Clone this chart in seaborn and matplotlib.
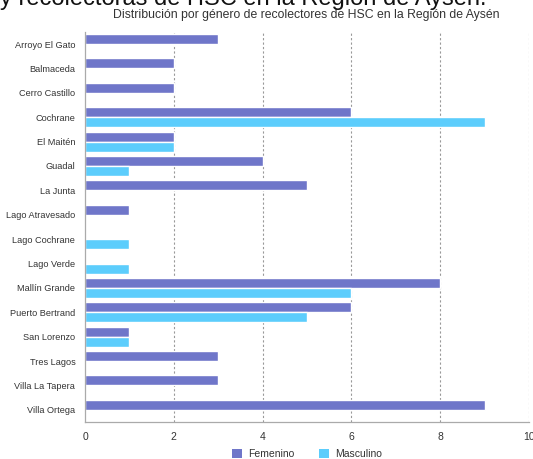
import matplotlib
matplotlib.use("Agg")
import matplotlib.pyplot as plt
import seaborn as sns
import pandas as pd
from matplotlib.patches import Patch

categories = ["Arroyo El Gato", "Balmaceda", "Cerro Castillo", "Cochrane", "El Maitén",
              "Guadal", "La Junta", "Lago Atravesado", "Lago Cochrane", "Lago Verde",
              "Mallín Grande", "Puerto Bertrand", "San Lorenzo", "Tres Lagos",
              "Villa La Tapera", "Villa Ortega"]
femenino = [3, 2, 2, 6, 2, 4, 5, 1, 0, 0, 8, 6, 1, 3, 3, 9]
masculino = [0, 0, 0, 9, 2, 1, 0, 0, 1, 1, 6, 5, 1, 0, 0, 0]
series = ["Femenino", "Masculino"]
colors = ["#6f76c9", "#5ccdfc"]
xticks = [0, 2, 4, 6, 8, 10]

df = pd.DataFrame({
    "Localidad": categories * 2,
    "Género": [series[0]] * len(categories) + [series[1]] * len(categories),
    "Cantidad": femenino + masculino,
})

sns.set_theme(style="white")
plt.rcParams["font.family"] = ["Liberation Sans", "DejaVu Sans"]

fig = plt.figure(figsize=(5.33, 4.59), dpi=100)
ax = fig.add_axes([0.1595, 0.0806, 0.833, 0.850])

sns.barplot(data=df, y="Localidad", x="Cantidad", hue="Género", order=categories,
            hue_order=series, palette=colors, orient="h", width=0.82,
            ax=ax, legend=False, saturation=1)

ax.set_xlim(0, 10)
ax.set_xticks(xticks)
ax.set_xticklabels([str(t) for t in xticks], fontsize=7.5, color="#333333")
ax.tick_params(axis="y", labelsize=6.6, colors="#333333", length=0, pad=7)
ax.tick_params(axis="x", length=0, pad=7)
ax.set_xlabel("")
ax.set_ylabel("")
for x in xticks[1:]:
    ax.axvline(x, color="#999999", linestyle=(0, (2, 2)), linewidth=0.8, zorder=0)
for s in ["top", "right"]:
    ax.spines[s].set_visible(False)
for s in ["left", "bottom"]:
    ax.spines[s].set_color("#aaaaaa")
    ax.spines[s].set_linewidth(0.9)

fig.text(0.574, 1 - 15 / 459, "Distribución por género de recolectores de HSC en la Región de Aysén",
         ha="center", va="center", fontsize=8.8, color="#333333")
fig.text(0.0, 1 - 4.5 / 459, "y recolectoras de HSC en la Región de Aysén.",
         ha="left", va="baseline", fontsize=17, color="#111111")

handles = [Patch(facecolor=c, edgecolor="none") for c in colors]
fig.legend(handles, series, loc="center", bbox_to_anchor=(0.576, 0.011), ncol=2,
           frameon=False, fontsize=7.5, handlelength=0.9, handleheight=0.9,
           columnspacing=2.4, handletextpad=0.6, labelcolor="#333333")

fig.savefig("out.png", dpi=100)
